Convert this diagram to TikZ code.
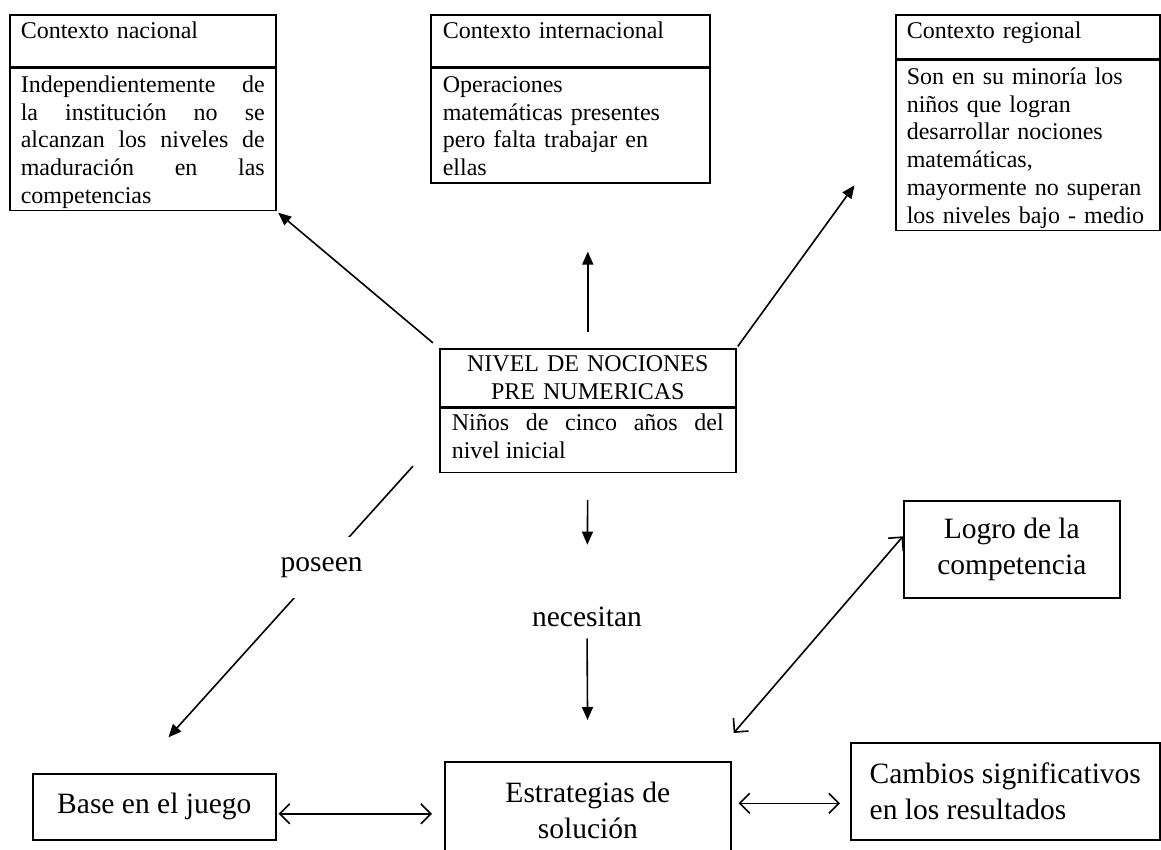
\documentclass[tikz,border=0pt]{standalone}
\usepackage{fontspec}
\setmainfont{Liberation Serif}
\usetikzlibrary{arrows.meta,calc}
\hyphenpenalty=10000
\exhyphenpenalty=10000
\tolerance=9999
\newcommand{\arriba}{\rule{0pt}{12pt}}
\newcommand{\abajo}{\rule[-3.5pt]{0pt}{3.5pt}}

\begin{document}
\begin{tikzpicture}[x=0.5pt, y=-0.5pt,
    caja/.style={draw, line width=0.8pt, anchor=north west, font=\fontsize{12}{13.9}\selectfont},
    titulo/.style={caja, align=left, inner xsep=6pt, inner ysep=2pt, text height=10pt, text depth=12pt},
    cuerpo/.style={caja, inner xsep=6pt, inner ysep=0pt},
    grande/.style={draw, line width=0.8pt, anchor=north west, align=center, font=\fontsize{14.75}{18}\selectfont},
    etiqueta/.style={fill=white, font=\fontsize{14.75}{18}\selectfont},
    flecha/.style={-{Triangle[length=6.5pt,width=5.5pt]}, line width=0.8pt},
    doble/.style={{Straight Barb[length=5pt,width=10pt]}-{Straight Barb[length=5pt,width=10pt]}, line width=0.8pt}]
    \useasboundingbox (0,0) rectangle (1161,850);

    % Contextos (arriba)
    \node[titulo, text width=122pt, inner xsep=5.5pt] (nacT) at (9,14) {Contexto nacional};
    \node[cuerpo, text width=122pt, inner xsep=5.5pt, align=justify] (nacB) at (nacT.south west)
        {\arriba Independientemente de\linebreak la institución no se\linebreak alcanzan los niveles de\linebreak maduración en las\linebreak competencias\abajo};

    \node[titulo, text width=127.5pt] (intT) at (430,14) {Contexto internacional};
    \node[cuerpo, text width=127.5pt, align=left] (intB) at (intT.south west)
        {\arriba Operaciones\\ matemáticas presentes\\ pero falta trabajar en\\ ellas\abajo};

    \node[titulo, text width=121pt, inner xsep=5.5pt, text depth=8pt] (regT) at (895,14) {Contexto regional};
    \node[cuerpo, text width=121pt, inner xsep=5.5pt, align=left] (regB) at (regT.south west)
        {\arriba Son en su minoría los\\ niños que logran\\ desarrollar nociones\\ matemáticas,\\ mayormente no superan\\ los niveles bajo - medio\abajo};

    % Nodo central
    \node[caja, text width=136pt, inner xsep=6pt, inner ysep=3.5pt, align=center] (nivT) at (439,348)
        {NIVEL DE NOCIONES\\ PRE NUMERICAS};
    \node[cuerpo, text width=136pt, inner ysep=2.8pt, align=justify] (nivB) at (nivT.south west)
        {Niños de cinco años del\linebreak nivel inicial\strut};

    % Cajas de abajo
    \node[grande, minimum width=108pt, minimum height=48.5pt] (logN) at (903,500) {Logro de la\\ competencia};
    \node[grande, minimum width=121.5pt, minimum height=33pt] (baseN) at (32,773) {Base en el juego};
    \node[grande, minimum width=143pt, minimum height=49pt] (estN) at (444,761) {Estrategias de\\ solución};
    \node[grande, minimum width=154.5pt, minimum height=48.5pt, align=left] (camN) at (850,742)
        {Cambios significativos\\ en los resultados};

    \node[etiqueta, inner sep=0pt] (necL) at (587,617) {necesitan};

    % Flechas hacia los contextos
    \draw[flecha, shorten <=4pt, shorten >=1pt] (nivT.north west) -- (nacB.south east);
    \draw[flecha, shorten <=8pt, shorten >=34pt] (nivT.north) -- (nivT.north |- intB.south);
    \draw[flecha, shorten <=1pt, shorten >=34.5pt] (nivT.north east) -- ([yshift=8pt]regB.west);

    % poseen / necesitan
    \draw[flecha, shorten >=24pt] ([xshift=-13pt,yshift=3.5pt]nivB.south west)
        -- node[etiqueta, minimum height=30.5pt, inner xsep=2pt, pos=0.33] (posL) {poseen} ([xshift=-9pt]baseN.north);
    \draw[flecha, shorten <=13.5pt, shorten >=31pt] (nivB.south) -- (necL.north);
    \draw[flecha, shorten <=5.5pt, shorten >=20.5pt] (necL.south) -- (estN.north);

    % Flechas dobles
    \draw[doble, shorten <=18.5pt] ([xshift=-11pt]estN.north east) -- ([yshift=6.5pt]logN.west);
    \draw[doble, shorten <=1pt, shorten >=6pt] ($(baseN.east)+(0pt,-3.5pt)$) -- ($(baseN.east -| estN.west)+(0pt,-3.5pt)$);
    \draw[doble, shorten <=3.5pt, shorten >=5pt] ($(estN.east |- camN.west)+(0pt,-6pt)$) -- ($(camN.west)+(0pt,-6pt)$);
\end{tikzpicture}
\end{document}
